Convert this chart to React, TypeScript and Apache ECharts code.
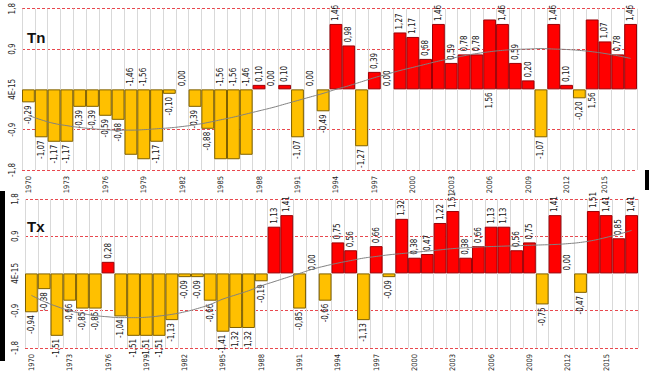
import React, { useEffect, useRef } from "react";
import * as echarts from "echarts";

const years = [
  "1970","1971","1972","1973","1974","1975","1976","1977","1978","1979",
  "1980","1981","1982","1983","1984","1985","1986","1987","1988","1989",
  "1990","1991","1992","1993","1994","1995","1996","1997","1998","1999",
  "2000","2001","2002","2003","2004","2005","2006","2007","2008","2009",
  "2010","2011","2012","2013","2014","2015","2016","2017",
];

const tnValues = [
  -0.29, -1.07, -1.17, -1.17, -0.39, -0.39, -0.59, -0.68, -1.46, -1.56,
  -1.17, -0.10, 0.00, -0.39, -0.88, -1.56, -1.56, -1.46, 0.10, 0.00,
  0.10, -1.07, 0.00, -0.49, 1.46, 0.98, -1.27, 0.39, 0.00, 1.27,
  1.17, 0.68, 1.46, 0.59, 0.78, 0.78, 1.56, 1.46, 0.59, 0.20,
  -1.07, 1.46, 0.10, -0.20, 1.56, 1.07, 0.78, 1.46,
];

const tnTrend = [
  -0.58, -0.68, -0.76, -0.81, -0.85, -0.88, -0.90, -0.91, -0.91, -0.90,
  -0.88, -0.86, -0.83, -0.79, -0.74, -0.68, -0.62, -0.55, -0.48, -0.41,
  -0.33, -0.25, -0.17, -0.09, 0.00, 0.08, 0.17, 0.26, 0.34, 0.42,
  0.49, 0.56, 0.63, 0.69, 0.75, 0.80, 0.84, 0.87, 0.89, 0.90,
  0.91, 0.90, 0.89, 0.87, 0.84, 0.80, 0.75, 0.69,
];

const txValues = [
  -0.94, -0.38, -1.51, -0.66, -0.85, -0.85, 0.28, -1.04, -1.51, -1.51,
  -1.51, -1.13, -0.09, -0.09, -0.66, -1.41, -1.32, -1.32, -0.19, 1.13,
  1.41, -0.85, 0.00, -0.66, 0.75, 0.56, -1.13, 0.66, -0.09, 1.32,
  0.38, 0.47, 1.22, 1.51, 0.38, 0.66, 1.13, 1.13, 0.56, 0.75,
  -0.75, 1.41, 0.00, -0.47, 1.51, 1.41, 0.85, 1.41,
];

const txTrend = [
  -0.53, -0.68, -0.80, -0.90, -0.97, -1.02, -1.05, -1.07, -1.07, -1.06,
  -1.03, -0.99, -0.93, -0.85, -0.75, -0.62, -0.52, -0.42, -0.30, -0.20,
  -0.10, 0.00, 0.10, 0.18, 0.25, 0.31, 0.37, 0.41, 0.45, 0.48,
  0.51, 0.54, 0.57, 0.60, 0.62, 0.64, 0.65, 0.66, 0.67, 0.68,
  0.69, 0.70, 0.72, 0.75, 0.80, 0.87, 0.95, 1.04,
];

// years whose value label sits on the other side of the zero line
const tnFlippedLabels = ["1978", "1979", "1985", "1986", "1987", "2006", "2014"];
const txFlippedLabels: string[] = [];

const yTickValues = [-1.8, -0.9, 0, 0.9, 1.8];
const yTickLabels = ["-1,8", "-0,9", "4E-15", "0,9", "1,8"];

const panelTitles = ["Tn", "Tx"];

const RED = "#FF0000";
const RED_BORDER = "#9C0006";
const YELLOW = "#FFC000";
const YELLOW_BORDER = "#7F6000";
const GRID_RED = "#E8484E";
const NARROW = '"Liberation Sans Narrow", "DejaVu Sans Condensed", "Arial Narrow", "Liberation Sans", sans-serif';

function fmt(v: number) {
  return v.toFixed(2).replace(".", ",");
}

function barData(vals: number[], flipped: string[]) {
  return vals.map((v, i) => {
    const flip = flipped.includes(years[i]);
    const up = v >= 0 ? !flip : flip;
    return {
      value: v,
      itemStyle: {
        color: v > 0 ? RED : YELLOW,
        borderColor: v > 0 ? RED_BORDER : YELLOW_BORDER,
        borderWidth: v === 0 ? 0 : 1,
      },
      label: {
        position: up ? "top" : "bottom",
        align: up ? "left" : "right",
        verticalAlign: "middle",
      },
    };
  });
}

export default function App() {
  const ref = useRef<HTMLDivElement>(null);
  useEffect(() => {
    if (!ref.current) return;
    const chart = echarts.init(ref.current, undefined, { renderer: "svg" });
    const grids = [
      { left: 22, top: 7, width: 615, height: 163 },
      { left: 25, top: 199, width: 613, height: 155 },
    ];
    const xAxes = grids.map((_, gi) => ({
      type: "category",
      gridIndex: gi,
      data: years,
      boundaryGap: true,
      axisLine: { show: false },
      axisTick: { show: false },
      axisLabel: {
        interval: 2,
        rotate: 90,
        fontSize: 7.5,
        fontFamily: NARROW,
        color: "#222",
        margin: 6,
      },
      splitLine: { show: true, interval: 0, lineStyle: { color: "#D9D9D9", width: 1 } },
    }));
    const yAxes = grids.map((_, gi) => ({
      type: "value",
      gridIndex: gi,
      min: -1.8,
      max: 1.8,
      interval: 0.9,
      axisLine: { show: false },
      axisTick: { show: false },
      axisLabel: {
        rotate: 90,
        fontSize: 8,
        fontFamily: NARROW,
        color: "#222",
        margin: 6,
        formatter: (v: number) => {
          let best = 0;
          yTickValues.forEach((t, k) => {
            if (Math.abs(t - v) < Math.abs(yTickValues[best] - v)) best = k;
          });
          return yTickLabels[best];
        },
      },
      splitLine: {
        show: true,
        lineStyle: {
          color: [GRID_RED, GRID_RED, "rgba(0,0,0,0)", GRID_RED, GRID_RED],
          type: [3, 2],
          width: 1,
        },
      },
    }));
    const panels = [
      { vals: tnValues, trend: tnTrend, flipped: tnFlippedLabels },
      { vals: txValues, trend: txTrend, flipped: txFlippedLabels },
    ];
    const series: any[] = [];
    panels.forEach((p, gi) => {
      series.push({
        type: "bar",
        xAxisIndex: gi,
        yAxisIndex: gi,
        barCategoryGap: "0%",
        data: barData(p.vals, p.flipped),
        label: {
          show: true,
          rotate: 90,
          distance: 3,
          fontSize: 8,
          fontFamily: NARROW,
          color: "#111",
          formatter: (prm: any) => fmt(prm.value),
        },
        z: 2,
      });
      series.push({
        type: "line",
        xAxisIndex: gi,
        yAxisIndex: gi,
        data: p.trend,
        smooth: true,
        symbol: "none",
        lineStyle: { color: "#808080", width: 1 },
        z: 3,
      });
    });
    chart.setOption({
      animation: false,
      backgroundColor: "#FFFFFF",
      grid: grids,
      xAxis: xAxes,
      yAxis: yAxes,
      series,
      graphic: [
        {
          type: "text",
          left: 27,
          top: 30,
          style: { text: panelTitles[0], fontSize: 15, fontWeight: "bold", fontFamily: "Liberation Sans, Arial, sans-serif", fill: "#111" },
          z: 10,
        },
        {
          type: "text",
          left: 27,
          top: 219,
          style: { text: panelTitles[1], fontSize: 15, fontWeight: "bold", fontFamily: "Liberation Sans, Arial, sans-serif", fill: "#111" },
          z: 10,
        },
        { type: "rect", shape: { x: 0, y: 191, width: 5, height: 170 }, style: { fill: "#000" }, z: 10 },
        { type: "rect", shape: { x: 645, y: 170, width: 4, height: 20 }, style: { fill: "#000" }, z: 10 },
      ],
    });
    return () => chart.dispose();
  }, []);
  return (
    <div
      ref={ref}
      style={{ position: "fixed", left: 0, top: 0, width: 649, height: 374, background: "#fff" }}
    />
  );
}
